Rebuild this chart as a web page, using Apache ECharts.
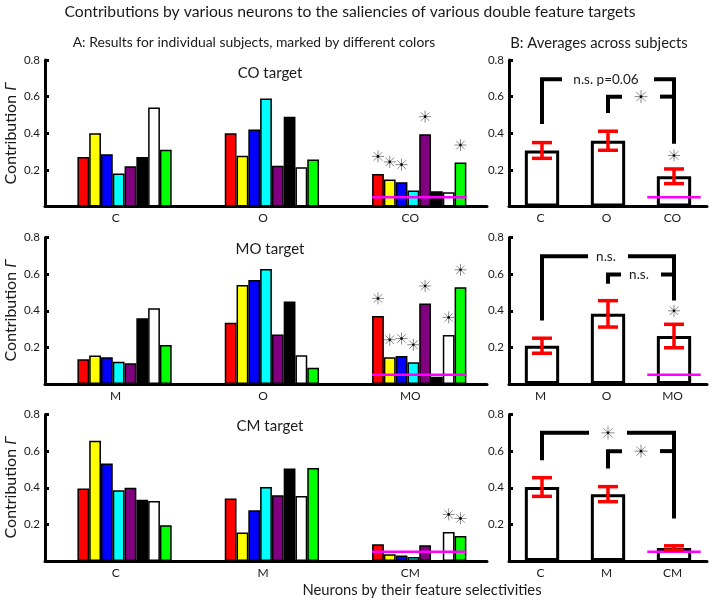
<!DOCTYPE html>
<html><head><meta charset="utf-8">
<script src="https://cdn.jsdelivr.net/npm/echarts@6/dist/echarts.min.js"></script>
<style>html,body{margin:0;padding:0;background:#fff}#c{width:712px;height:604px}</style>
</head><body><div id="c"></div>
<script>
// ---------------- DATA ----------------
const subjectColors = ['#ff0000', '#ffff00', '#0000ff', '#00ffff', '#800080', '#000000', '#ffffff', '#00ff00'];

const rowTitles = ['CO target', 'MO target', 'CM target'];
const coCategories = ['C', 'O', 'CO'];
const moCategories = ['M', 'O', 'MO'];
const cmCategories = ['C', 'M', 'CM'];

// Panel A: contributions per subject (8 subjects, colour order above)
const coTargetC  = [0.27, 0.40, 0.286, 0.18, 0.22, 0.27, 0.54, 0.31];
const coTargetO  = [0.40, 0.277, 0.42, 0.59, 0.223, 0.49, 0.215, 0.256];
const coTargetCO = [0.178, 0.148, 0.133, 0.088, 0.395, 0.083, 0.078, 0.24];
const coTargetSig = [1, 1, 1, 0, 1, 0, 0, 1];

const moTargetM  = [0.135, 0.155, 0.146, 0.122, 0.113, 0.359, 0.414, 0.213];
const moTargetO  = [0.335, 0.54, 0.568, 0.628, 0.27, 0.45, 0.157, 0.089];
const moTargetMO = [0.372, 0.146, 0.153, 0.119, 0.44, 0.04, 0.268, 0.528];
const moTargetSig = [1, 1, 1, 1, 1, 0, 1, 1];

const cmTargetC  = [0.396, 0.656, 0.532, 0.386, 0.40, 0.335, 0.328, 0.195];
const cmTargetM  = [0.341, 0.155, 0.277, 0.404, 0.359, 0.505, 0.355, 0.508];
const cmTargetCM = [0.091, 0.037, 0.03, 0.022, 0.086, 0.0, 0.159, 0.137];
const cmTargetSig = [0, 0, 0, 0, 0, 0, 1, 1];

// Panel B: averages across subjects with error bars
const coMeans = [0.306, 0.359, 0.165];
const coErrors = [0.043, 0.052, 0.040];
const coMeanSig = [0, 0, 1];
const moMeans = [0.209, 0.383, 0.262];
const moErrors = [0.041, 0.072, 0.064];
const moMeanSig = [0, 0, 1];
const cmMeans = [0.404, 0.365, 0.071];
const cmErrors = [0.051, 0.041, 0.012];
const cmMeanSig = [0, 0, 0];

// chance level (magenta line) per target
const chanceLevels = [0.05, 0.05, 0.05];

// significance brackets: category index from/to, top value, bottom value of each leg, label
const coBrackets = [
  { from: 0, to: 2, top: 0.695, fromEnd: 0.45, toEnd: 0.342, label: 'n.s. p=0.06' },
  { from: 1, to: 2, top: 0.60, fromEnd: 0.51, toEnd: null, label: '*' }
];
const moBrackets = [
  { from: 0, to: 2, top: 0.698, fromEnd: 0.347, toEnd: 0.456, label: 'n.s.' },
  { from: 1, to: 2, top: 0.598, fromEnd: 0.548, toEnd: null, label: 'n.s.' }
];
const cmBrackets = [
  { from: 0, to: 2, top: 0.70, fromEnd: 0.55, toEnd: 0.232, label: '*' },
  { from: 1, to: 2, top: 0.60, fromEnd: 0.505, toEnd: null, label: '*' }
];

const yTicks = [0, 0.2, 0.4, 0.6, 0.8];

// ---------------- LAYOUT / STYLE ----------------
const FONT = 'Lato';
const TEXT = '#1a1a1a';
const LEFT_CAT_GAP = 0.28;
const rows = [
  { cats: coCategories, groups: [coTargetC, coTargetO, coTargetCO], sig: coTargetSig, means: coMeans, errs: coErrors, meanSig: coMeanSig, brackets: coBrackets },
  { cats: moCategories, groups: [moTargetM, moTargetO, moTargetMO], sig: moTargetSig, means: moMeans, errs: moErrors, meanSig: moMeanSig, brackets: moBrackets },
  { cats: cmCategories, groups: [cmTargetC, cmTargetM, cmTargetCM], sig: cmTargetSig, means: cmMeans, errs: cmErrors, meanSig: cmMeanSig, brackets: cmBrackets }
];
const gridTops = [60, 237.5, 414.5];
const gridH = 146.5;

function asterisk(cx, cy, r) {
  const d = r * 0.7071;
  const st = { stroke: '#8a8a8a', lineWidth: 1 };
  return [
    { type: 'line', shape: { x1: cx - r, y1: cy, x2: cx + r, y2: cy }, style: st },
    { type: 'line', shape: { x1: cx, y1: cy - r, x2: cx, y2: cy + r }, style: st },
    { type: 'line', shape: { x1: cx - d, y1: cy - d, x2: cx + d, y2: cy + d }, style: st },
    { type: 'line', shape: { x1: cx - d, y1: cy + d, x2: cx + d, y2: cy - d }, style: st },
    { type: 'circle', shape: { cx: cx, cy: cy, r: 1.3 }, style: { fill: '#000' } }
  ];
}
function bandWidth(api) {
  return Math.abs(api.coord([1, 0])[0] - api.coord([0, 0])[0]);
}
function leftGroupGeom(api, idx) {
  const bw = bandWidth(api);
  const c = api.coord([idx, 0])[0];
  const groupW = bw * (1 - LEFT_CAT_GAP);
  const slot = groupW / (subjectColors.length + 1);
  return { start: c - groupW / 2 + slot, end: c + groupW / 2, slot: slot };
}

const grids = [], xAxes = [], yAxes = [], series = [];
rows.forEach((row, r) => {
  grids.push({ left: 45, width: 442, top: gridTops[r], height: gridH });
  grids.push({ left: 509, width: 198, top: gridTops[r], height: gridH });
  [0, 1].forEach(side => {
    xAxes.push({
      type: 'category', gridIndex: 2 * r + side, data: row.cats,
      axisTick: { show: false },
      axisLine: { lineStyle: { color: '#000', width: 3 } },
      axisLabel: { color: TEXT, fontFamily: FONT, fontSize: 12, margin: 6, padding: side === 0 ? [0, 6, 0, 0] : [0, 3, 0, 0] }
    });
    yAxes.push({
      type: 'value', gridIndex: 2 * r + side, min: 0, max: 0.8, interval: 0.2,
      splitLine: { show: false },
      axisLine: { show: true, lineStyle: { color: '#000', width: 3 } },
      axisTick: { show: true, inside: true, length: 4, lineStyle: { color: '#000', width: 3 } },
      axisLabel: { color: TEXT, fontFamily: FONT, fontSize: 11.5, margin: 5,
        formatter: v => (yTicks.indexOf(v) > 0 ? v.toFixed(1) : '') }
    });
  });
  const li = 2 * r, ri = 2 * r + 1;
  // spacer slot so subject bars sit right of the category centre
  series.push({ type: 'bar', xAxisIndex: li, yAxisIndex: li, data: [0, 0, 0], barGap: 0,
    barCategoryGap: (LEFT_CAT_GAP * 100) + '%', silent: true,
    itemStyle: { color: 'rgba(0,0,0,0)', borderWidth: 0 } });
  subjectColors.forEach((col, s) => {
    series.push({
      type: 'bar', xAxisIndex: li, yAxisIndex: li, barGap: 0, barCategoryGap: (LEFT_CAT_GAP * 100) + '%',
      data: row.groups.map(g => g[s]),
      itemStyle: { color: col, borderColor: '#000', borderWidth: 1.5 }
    });
  });
  // chance line across third group (left)
  series.push({
    type: 'custom', xAxisIndex: li, yAxisIndex: li, z: 5, silent: true,
    data: [[2, chanceLevels[r]]],
    renderItem: (params, api) => {
      const g = leftGroupGeom(api, api.value(0));
      const y = api.coord([api.value(0), api.value(1)])[1];
      return { type: 'line', shape: { x1: g.start, y1: y, x2: g.end, y2: y }, style: { stroke: '#ff00ff', lineWidth: 2.5 } };
    }
  });
  // asterisks above significant subject bars (third group)
  series.push({
    type: 'custom', xAxisIndex: li, yAxisIndex: li, z: 5, silent: true,
    data: row.groups[2].map((v, s) => [2, v, s]).filter((d, s) => row.sig[s]),
    renderItem: (params, api) => {
      const g = leftGroupGeom(api, api.value(0));
      const x = g.start + g.slot * (api.value(2) + 0.5);
      const y = api.coord([api.value(0), api.value(1)])[1] - 17.5;
      return { type: 'group', children: asterisk(x, y, 6) };
    }
  });
  // right: mean bars
  series.push({
    type: 'bar', xAxisIndex: ri, yAxisIndex: ri, barWidth: '52%', data: row.means,
    itemStyle: { color: '#fff', borderColor: '#000', borderWidth: 3 }
  });
  series.push({
    type: 'custom', xAxisIndex: ri, yAxisIndex: ri, z: 5, silent: true,
    data: [[2, chanceLevels[r]]],
    renderItem: (params, api) => {
      const p = api.coord([api.value(0), api.value(1)]);
      const hw = bandWidth(api) * 0.405;
      return { type: 'line', shape: { x1: p[0] - hw, y1: p[1], x2: p[0] + hw, y2: p[1] }, style: { stroke: '#ff00ff', lineWidth: 2.5 } };
    }
  });
  // error bars + significance asterisk
  series.push({
    type: 'custom', xAxisIndex: ri, yAxisIndex: ri, z: 6, silent: true,
    data: row.means.map((m, i) => [i, m, row.errs[i], row.meanSig[i]]),
    encode: { x: 0, y: 1 },
    renderItem: (params, api) => {
      const i = api.value(0), m = api.value(1), e = api.value(2);
      const top = api.coord([i, m + e]), bot = api.coord([i, m - e]);
      const st = { stroke: '#ff0000', lineWidth: 3.5 };
      const ch = [
        { type: 'line', shape: { x1: top[0], y1: top[1], x2: bot[0], y2: bot[1] }, style: st },
        { type: 'line', shape: { x1: top[0] - 10, y1: top[1], x2: top[0] + 10, y2: top[1] }, style: st },
        { type: 'line', shape: { x1: bot[0] - 10, y1: bot[1], x2: bot[0] + 10, y2: bot[1] }, style: st }
      ];
      if (api.value(3)) asterisk(top[0], top[1] - 13.5, 6).forEach(c => ch.push(c));
      return { type: 'group', children: ch };
    }
  });
  // brackets
  series.push({
    type: 'custom', xAxisIndex: ri, yAxisIndex: ri, z: 6, silent: true,
    data: row.brackets.map(b => [b.from, b.top]),
    encode: { x: 0, y: 1 },
    renderItem: (params, api) => {
      const b = row.brackets[params.dataIndex];
      const pa = api.coord([b.from, b.top]), pb = api.coord([b.to, b.top]);
      const yTop = pa[1];
      const mid = (pa[0] + pb[0]) / 2;
      const hg = b.label === '*' ? 19 : (b.label.length > 5 ? 46 : 20);
      const st = { stroke: '#000', lineWidth: 4, fill: null, lineJoin: 'miter' };
      const ch = [];
      ch.push({ type: 'polyline', shape: { points: [[pa[0], api.coord([b.from, b.fromEnd])[1]], [pa[0], yTop], [mid - hg, yTop]] }, style: st });
      if (b.toEnd != null) {
        ch.push({ type: 'polyline', shape: { points: [[mid + hg, yTop], [pb[0], yTop], [pb[0], api.coord([b.to, b.toEnd])[1]]] }, style: st });
      } else {
        ch.push({ type: 'line', shape: { x1: mid + hg, y1: yTop, x2: pb[0] + 2, y2: yTop }, style: st });
      }
      if (b.label === '*') {
        asterisk(mid, yTop, 6.5).forEach(c => ch.push(c));
      } else {
        ch.push({ type: 'text', x: mid - 2, y: yTop, style: { text: b.label, fill: TEXT, font: '13.5px ' + FONT, align: 'center', verticalAlign: 'middle' } });
      }
      return { type: 'group', children: ch };
    }
  });
});

const graphics = [
  { type: 'text', x: 350, y: 12, style: { text: 'Contributions by various neurons to the saliencies of various double feature targets', fill: TEXT, font: '15.7px ' + FONT, align: 'center', verticalAlign: 'middle' } },
  { type: 'text', x: 254, y: 43, style: { text: 'A: Results for individual subjects, marked by different colors', fill: TEXT, font: '13.9px ' + FONT, align: 'center', verticalAlign: 'middle' } },
  { type: 'text', x: 599, y: 43, style: { text: 'B: Averages across subjects', fill: TEXT, font: '14.8px ' + FONT, align: 'center', verticalAlign: 'middle' } },
  { type: 'text', x: 422, y: 590, style: { text: 'Neurons by their feature selectivities', fill: TEXT, font: '14.8px ' + FONT, align: 'center', verticalAlign: 'middle' } }
];
const rowTitleY = [73, 249.5, 426.5];
const rowMidY = [133.5, 310.5, 487.5];
rowTitles.forEach((t, r) => {
  graphics.push({ type: 'text', x: 270, y: rowTitleY[r], style: { text: t, fill: TEXT, font: '15px ' + FONT, align: 'center', verticalAlign: 'middle' } });
  graphics.push({ type: 'text', x: 11, y: rowMidY[r], rotation: Math.PI / 2,
    style: { text: '{a|Contribution }{b|Γ}', align: 'center', verticalAlign: 'middle',
      rich: { a: { fill: TEXT, fontFamily: FONT, fontSize: 16 }, b: { fill: TEXT, fontFamily: FONT, fontSize: 16, fontStyle: 'italic' } } } });
});

const chart = echarts.init(document.getElementById('c'), null, { renderer: 'canvas' });
chart.setOption({
  animation: false,
  backgroundColor: '#fff',
  grid: grids, xAxis: xAxes, yAxis: yAxes, series: series,
  graphic: graphics
});
</script></body></html>
